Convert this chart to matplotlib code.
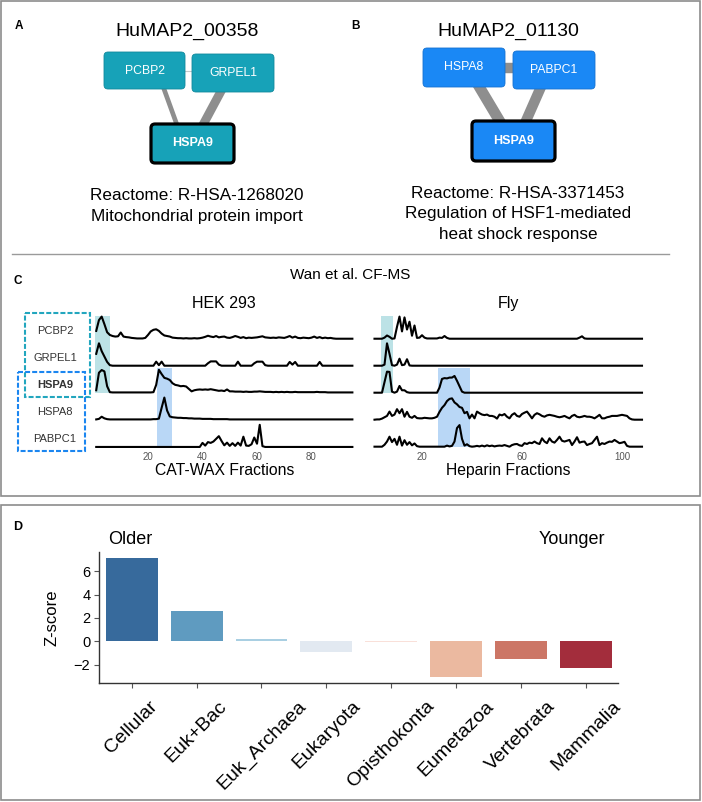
import matplotlib
matplotlib.use('Agg')
import matplotlib.pyplot as plt
from matplotlib.patches import FancyBboxPatch, Rectangle
import numpy as np

plt.rcParams['font.family'] = ['Liberation Sans', 'DejaVu Sans']

# --- DATA ---
# panel A / B : complexes
complex_a = 'HuMAP2_00358'
nodes_a = ['PCBP2', 'GRPEL1', 'HSPA9']
edges_a = [('PCBP2', 'GRPEL1'), ('PCBP2', 'HSPA9'), ('GRPEL1', 'HSPA9')]
weights_a = [0.05, 0.45, 0.85]
caption_a = ['Reactome: R-HSA-1268020', 'Mitochondrial protein import']

complex_b = 'HuMAP2_01130'
nodes_b = ['HSPA8', 'PABPC1', 'HSPA9']
edges_b = [('HSPA8', 'PABPC1'), ('HSPA8', 'HSPA9'), ('PABPC1', 'HSPA9')]
weights_b = [1.0, 1.05, 1.0]
caption_b = ['Reactome: R-HSA-3371453', 'Regulation of HSF1-mediated', 'heat shock response']

# panel C : CF-MS elution profiles
rows = ['PCBP2', 'GRPEL1', 'HSPA9', 'HSPA8', 'PABPC1']
hek_fractions = np.arange(1, 96)
hek = {
    'PCBP2': [0.30, 0.70, 0.83, 0.55, 0.25, 0.15, 0.11, 0.09, 0.10, 0.24,
              0.09, 0.07, 0.06, 0.04, 0.03, 0.02, 0.02, 0.02, 0.04, 0.15,
              0.28, 0.34, 0.36, 0.30, 0.20, 0.13, 0.11, 0.09, 0.05, 0.04,
              0.03, 0.03, 0.02, 0.03, 0.02, 0.02, 0.03, 0.02, 0.03, 0.05,
              0.08, 0.12, 0.09, 0.07, 0.11, 0.06, 0.08, 0.09, 0.05, 0.04,
              0.07, 0.11, 0.08, 0.04, 0.07, 0.03, 0.05, 0.04, 0.05, 0.06,
              0.08, 0.10, 0.06, 0.05, 0.04, 0.05, 0.04, 0.06, 0.05, 0.04,
              0.07, 0.11, 0.05, 0.09, 0.04, 0.03, 0.05, 0.04, 0.03, 0.05,
              0.09, 0.04, 0.07, 0.03, 0.05, 0.03, 0.04, 0.02, 0.01, 0.01,
              0.01, 0.01, 0.01, 0.01, 0.01],
    'GRPEL1': [0.45, 0.84, 0.55, 0.35, 0.15, 0.03, 0.01, 0.01, 0.01, 0.01,
               0.01, 0.01, 0.01, 0.01, 0.01, 0.01, 0.01, 0.01, 0.01, 0.01,
               0.01, 0.01, 0.16, 0.03, 0.16, 0.01, 0.01, 0.01, 0.01, 0.01,
               0.01, 0.01, 0.01, 0.01, 0.01, 0.01, 0.01, 0.01, 0.01, 0.01,
               0.01, 0.10, 0.17, 0.17, 0.17, 0.05, 0.01, 0.01, 0.01, 0.01,
               0.01, 0.01, 0.16, 0.01, 0.01, 0.01, 0.01, 0.01, 0.10, 0.16,
               0.16, 0.16, 0.03, 0.01, 0.01, 0.01, 0.01, 0.01, 0.01, 0.01,
               0.01, 0.15, 0.05, 0.15, 0.01, 0.01, 0.01, 0.01, 0.01, 0.01,
               0.01, 0.01, 0.15, 0.01, 0.01, 0.01, 0.01, 0.01, 0.01, 0.01,
               0.01, 0.01, 0.01, 0.01, 0.01],
    'HSPA9': [0.10, 0.75, 0.85, 0.80, 0.25, 0.03, 0.02, 0.02, 0.02, 0.02,
              0.02, 0.02, 0.02, 0.02, 0.02, 0.02, 0.02, 0.02, 0.02, 0.02,
              0.02, 0.03, 0.30, 0.86, 0.70, 0.56, 0.53, 0.48, 0.36, 0.30,
              0.28, 0.25, 0.26, 0.24, 0.15, 0.06, 0.10, 0.12, 0.13, 0.12,
              0.13, 0.12, 0.14, 0.12, 0.10, 0.08, 0.09, 0.07, 0.13, 0.06,
              0.06, 0.05, 0.05, 0.05, 0.04, 0.05, 0.04, 0.04, 0.05, 0.05,
              0.06, 0.05, 0.04, 0.04, 0.04, 0.03, 0.04, 0.03, 0.04, 0.03,
              0.04, 0.03, 0.03, 0.04, 0.03, 0.03, 0.03, 0.03, 0.03, 0.03,
              0.03, 0.04, 0.03, 0.03, 0.03, 0.02, 0.02, 0.02, 0.02, 0.02,
              0.02, 0.02, 0.02, 0.02, 0.02],
    'HSPA8': [0.02, 0.04, 0.12, 0.06, 0.03, 0.02, 0.02, 0.02, 0.02, 0.02,
              0.02, 0.02, 0.02, 0.02, 0.02, 0.02, 0.02, 0.02, 0.02, 0.02,
              0.02, 0.03, 0.03, 0.05, 0.45, 0.83, 0.35, 0.13, 0.10, 0.09,
              0.08, 0.08, 0.07, 0.07, 0.06, 0.06, 0.05, 0.05, 0.05, 0.04,
              0.04, 0.04, 0.04, 0.03, 0.03, 0.03, 0.03, 0.03, 0.03, 0.02,
              0.02, 0.02, 0.02, 0.02, 0.02, 0.02, 0.02, 0.02, 0.02, 0.02,
              0.02, 0.02, 0.02, 0.02, 0.02, 0.02, 0.02, 0.02, 0.02, 0.02,
              0.02, 0.02, 0.02, 0.02, 0.02, 0.02, 0.02, 0.02, 0.02, 0.02,
              0.02, 0.02, 0.02, 0.02, 0.02, 0.02, 0.02, 0.02, 0.02, 0.02,
              0.02, 0.02, 0.02, 0.02, 0.02],
    'PABPC1': [0.00, 0.00, 0.00, 0.00, 0.00, 0.00, 0.00, 0.00, 0.00, 0.00,
               0.00, 0.00, 0.00, 0.00, 0.00, 0.00, 0.00, 0.00, 0.00, 0.00,
               0.00, 0.00, 0.00, 0.00, 0.00, 0.00, 0.00, 0.00, 0.00, 0.00,
               0.00, 0.00, 0.00, 0.00, 0.00, 0.00, 0.00, 0.00, 0.00, 0.15,
               0.05, 0.18, 0.15, 0.20, 0.30, 0.40, 0.22, 0.06, 0.16, 0.04,
               0.14, 0.04, 0.16, 0.05, 0.38, 0.05, 0.04, 0.10, 0.35, 0.12,
               0.82, 0.03, 0.00, 0.00, 0.00, 0.00, 0.00, 0.00, 0.00, 0.00,
               0.00, 0.00, 0.00, 0.00, 0.00, 0.00, 0.00, 0.00, 0.00, 0.00,
               0.00, 0.00, 0.00, 0.00, 0.00, 0.00, 0.00, 0.00, 0.00, 0.00,
               0.00, 0.00, 0.00, 0.00, 0.00],
}
fly_fractions = np.arange(1, 109)
fly = {
    'PCBP2': [0.01, 0.01, 0.01, 0.01, 0.05, 0.13, 0.08, 0.01, 0.02, 0.45,
              0.83, 0.28, 0.80, 0.35, 0.64, 0.12, 0.50, 0.04, 0.05, 0.14,
              0.05, 0.02, 0.02, 0.02, 0.02, 0.02, 0.05, 0.04, 0.11, 0.04,
              0.01, 0.01, 0.01, 0.01, 0.01, 0.01, 0.01, 0.01, 0.01, 0.01,
              0.01, 0.01, 0.01, 0.01, 0.01, 0.01, 0.01, 0.01, 0.01, 0.01,
              0.01, 0.01, 0.01, 0.01, 0.01, 0.01, 0.01, 0.01, 0.01, 0.01,
              0.01, 0.01, 0.01, 0.01, 0.01, 0.01, 0.01, 0.01, 0.01, 0.01,
              0.01, 0.01, 0.01, 0.01, 0.01, 0.01, 0.01, 0.01, 0.01, 0.01,
              0.01, 0.01, 0.05, 0.10, 0.02, 0.01, 0.01, 0.01, 0.01, 0.01,
              0.01, 0.01, 0.01, 0.01, 0.01, 0.01, 0.01, 0.01, 0.01, 0.01,
              0.01, 0.01, 0.01, 0.01, 0.01, 0.01, 0.01, 0.01],
    'GRPEL1': [0.01, 0.01, 0.01, 0.01, 0.05, 0.84, 0.45, 0.03, 0.01, 0.05,
               0.27, 0.03, 0.05, 0.25, 0.02, 0.01, 0.01, 0.01, 0.01, 0.01,
               0.01, 0.01, 0.01, 0.01, 0.01, 0.01, 0.01, 0.01, 0.01, 0.01,
               0.01, 0.01, 0.01, 0.01, 0.01, 0.01, 0.01, 0.01, 0.01, 0.01,
               0.01, 0.01, 0.01, 0.01, 0.01, 0.01, 0.01, 0.01, 0.01, 0.01,
               0.01, 0.01, 0.01, 0.01, 0.01, 0.01, 0.01, 0.01, 0.01, 0.01,
               0.01, 0.01, 0.01, 0.01, 0.01, 0.01, 0.01, 0.01, 0.01, 0.01,
               0.01, 0.01, 0.01, 0.01, 0.01, 0.01, 0.01, 0.01, 0.01, 0.01,
               0.01, 0.01, 0.01, 0.01, 0.01, 0.01, 0.01, 0.01, 0.01, 0.01,
               0.01, 0.01, 0.01, 0.01, 0.01, 0.01, 0.01, 0.01, 0.01, 0.01,
               0.01, 0.01, 0.01, 0.01, 0.01, 0.01, 0.01, 0.01],
    'HSPA9': [0.01, 0.01, 0.01, 0.01, 0.40, 0.79, 0.78, 0.05, 0.01, 0.05,
              0.26, 0.10, 0.10, 0.03, 0.01, 0.01, 0.01, 0.01, 0.01, 0.01,
              0.01, 0.01, 0.01, 0.01, 0.01, 0.01, 0.20, 0.52, 0.55, 0.54,
              0.57, 0.57, 0.63, 0.45, 0.25, 0.05, 0.01, 0.01, 0.01, 0.01,
              0.01, 0.01, 0.01, 0.01, 0.01, 0.01, 0.01, 0.01, 0.01, 0.01,
              0.01, 0.01, 0.01, 0.01, 0.01, 0.01, 0.01, 0.01, 0.01, 0.01,
              0.01, 0.01, 0.01, 0.01, 0.01, 0.01, 0.01, 0.01, 0.01, 0.01,
              0.01, 0.01, 0.01, 0.01, 0.01, 0.01, 0.01, 0.01, 0.01, 0.01,
              0.01, 0.01, 0.01, 0.01, 0.01, 0.01, 0.01, 0.01, 0.01, 0.01,
              0.01, 0.01, 0.01, 0.01, 0.01, 0.01, 0.01, 0.01, 0.01, 0.01,
              0.01, 0.01, 0.01, 0.01, 0.01, 0.01, 0.01, 0.01],
    'HSPA8': [0.01, 0.02, 0.02, 0.05, 0.10, 0.15, 0.31, 0.15, 0.20, 0.40,
              0.25, 0.40, 0.12, 0.30, 0.12, 0.08, 0.15, 0.07, 0.06, 0.06,
              0.08, 0.07, 0.06, 0.06, 0.08, 0.12, 0.30, 0.45, 0.55, 0.70,
              0.78, 0.80, 0.65, 0.58, 0.48, 0.45, 0.25, 0.30, 0.06, 0.20,
              0.06, 0.31, 0.25, 0.20, 0.18, 0.20, 0.15, 0.15, 0.12, 0.05,
              0.20, 0.17, 0.22, 0.12, 0.06, 0.19, 0.25, 0.15, 0.12, 0.22,
              0.27, 0.31, 0.19, 0.06, 0.19, 0.25, 0.21, 0.15, 0.12, 0.17,
              0.19, 0.17, 0.15, 0.12, 0.10, 0.12, 0.15, 0.10, 0.06, 0.15,
              0.19, 0.12, 0.10, 0.12, 0.15, 0.12, 0.12, 0.10, 0.06, 0.12,
              0.19, 0.06, 0.06, 0.10, 0.12, 0.15, 0.15, 0.15, 0.17, 0.19,
              0.17, 0.15, 0.06, 0.02, 0.01, 0.01, 0.01, 0.01],
    'PABPC1': [0.01, 0.01, 0.01, 0.01, 0.08, 0.20, 0.38, 0.18, 0.30, 0.08,
               0.38, 0.05, 0.25, 0.08, 0.18, 0.06, 0.13, 0.03, 0.01, 0.01,
               0.01, 0.01, 0.01, 0.01, 0.01, 0.01, 0.01, 0.01, 0.01, 0.05,
               0.02, 0.04, 0.20, 0.70, 0.81, 0.30, 0.05, 0.10, 0.03, 0.01,
               0.02, 0.04, 0.02, 0.05, 0.02, 0.06, 0.03, 0.05, 0.02, 0.04,
               0.05, 0.04, 0.07, 0.04, 0.01, 0.07, 0.10, 0.11, 0.06, 0.04,
               0.14, 0.11, 0.16, 0.14, 0.20, 0.14, 0.11, 0.32, 0.20, 0.14,
               0.32, 0.20, 0.16, 0.26, 0.38, 0.23, 0.20, 0.23, 0.26, 0.07,
               0.20, 0.36, 0.16, 0.19, 0.20, 0.07, 0.11, 0.14, 0.26, 0.38,
               0.07, 0.14, 0.11, 0.16, 0.20, 0.19, 0.26, 0.20, 0.14, 0.16,
               0.19, 0.04, 0.01, 0.01, 0.01, 0.01, 0.01, 0.01],
}
# co-elution windows (fraction ranges) highlighted in C
hek_mito_window = (0.5, 6.0)
hek_hsf1_window = (23.3, 28.8)
fly_mito_window = (3.6, 8.4)
fly_hsf1_window = (26.4, 39.2)

# panel D : age enrichment
ages = ['Cellular', 'Euk+Bac', 'Euk_Archaea', 'Eukaryota', 'Opisthokonta',
        'Eumetazoa', 'Vertebrata', 'Mammalia']
zscores = [7.13, 2.58, 0.23, -0.88, -0.05, -3.08, -1.50, -2.28]

# --- STYLE ---
TEAL = '#17a2b8'
BLUE = '#1a88f5'
TEAL_LIGHT = '#bce2e6'
BLUE_LIGHT = '#b9d7f6'
bar_colors = ['#376a9c', '#5f9bc0', '#a9cfe2', '#e2e9f1', '#f9e0d9',
              '#ebb9a0', '#cc7666', '#a32d3c']

W, H = 702, 802
fig = plt.figure(figsize=(W / 100, H / 100), dpi=100)


def px_rect(x0, y0, x1, y1):
    return [x0 / W, 1 - y1 / H, (x1 - x0) / W, (y1 - y0) / H]


# overlay in pixel coordinates for diagram panels / frames
ov = fig.add_axes([0, 0, 1, 1])
ov.set_xlim(0, W)
ov.set_ylim(H, 0)
ov.axis('off')

ov.add_patch(Rectangle((1, 1), 699, 495, fill=False, ec='#8c8c8c', lw=1.2))
ov.add_patch(Rectangle((1, 505), 699, 295, fill=False, ec='#8c8c8c', lw=1.2))
ov.plot([12, 669], [254, 254], color='#9a9a9a', lw=1)


def draw_complex(name, nodes, edges, weights, boxes, ends, color, edge_dark,
                 title_xy, caption, cap_y, letter, letter_xy):
    ov.text(*letter_xy, letter, fontsize=8.5, fontweight='bold', ha='center', va='center')
    ov.text(*title_xy, name, fontsize=14, ha='center', va='center')
    for (a, b), w in zip(edges, weights):
        (x0, y0), (x1, y1) = ends[(a, b)]
        if w < 0.1:
            ov.plot([x0, x1], [y0, y1], color='#c8c8c8', lw=0.8, zorder=1,
                    solid_capstyle='butt')
        else:
            ov.plot([x0, x1], [y0, y1], color='#8e8e8e', lw=7.5 * w, zorder=1,
                    solid_capstyle='butt')
    for n in nodes:
        x0, y0, x1, y1 = boxes[n]
        hub = n == 'HSPA9'
        ov.add_patch(FancyBboxPatch((x0, y0), x1 - x0, y1 - y0,
                                    boxstyle='round,pad=0,rounding_size=4',
                                    fc=color, ec='black' if hub else edge_dark,
                                    lw=2.3 if hub else 0.6, zorder=2))
        ov.text((x0 + x1) / 2, (y0 + y1) / 2, n, color='white', ha='center', va='center',
                fontsize=9 if hub else 8.8, fontweight='bold' if hub else 'normal', zorder=3)
    for i, line in enumerate(caption):
        ov.text(title_xy[0] + 10, cap_y + 20.5 * i, line, fontsize=12.3, ha='center', va='center')


boxes_a = {'PCBP2': (104, 52, 185, 89), 'GRPEL1': (192, 54, 274, 92), 'HSPA9': (151, 124, 234, 163)}
ends_a = {('PCBP2', 'GRPEL1'): ((184, 71), (193, 71)),
          ('PCBP2', 'HSPA9'): ((160, 78), (181, 136)),
          ('GRPEL1', 'HSPA9'): ((227, 80), (197, 136))}
draw_complex(complex_a, nodes_a, edges_a, weights_a, boxes_a, ends_a, TEAL, '#12899c',
             (187, 31), caption_a, 196, 'A', (19, 26))

boxes_b = {'HSPA8': (423, 48, 505, 87), 'PABPC1': (513, 51, 595, 89), 'HSPA9': (472, 121, 555, 161)}
ends_b = {('HSPA8', 'PABPC1'): ((500, 68), (518, 68)),
          ('HSPA8', 'HSPA9'): ((474, 78), (505, 130)),
          ('PABPC1', 'HSPA9'): ((544, 80), (522, 130))}
draw_complex(complex_b, nodes_b, edges_b, weights_b, boxes_b, ends_b, BLUE, '#1672d0',
             (508, 31), caption_b, 193, 'B', (355, 26))

# --- panel C ---
ov.text(18, 281, 'C', fontsize=8.5, fontweight='bold', ha='center', va='center')
ov.text(350, 275, 'Wan et al. CF-MS', fontsize=11, ha='center', va='center')

ax_h = fig.add_axes(px_rect(93.5, 312, 93.5 + 96 * 2.725, 451))
ax_f = fig.add_axes(px_rect(372, 312, 372 + 109 * 2.5, 451))
panels = [(ax_h, hek, hek_fractions, 96, 'HEK 293', 'CAT-WAX Fractions', [20, 40, 60, 80],
           hek_mito_window, hek_hsf1_window),
          (ax_f, fly, fly_fractions, 109, 'Fly', 'Heparin Fractions', [20, 60, 100],
           fly_mito_window, fly_hsf1_window)]
for ax, prof, fr, xmax, title, xlabel, ticks, mito, hsf in panels:
    ax.set_xlim(0, xmax)
    ax.set_ylim(-0.15, 5.0)
    ax.patch.set_alpha(0)
    for s in ax.spines.values():
        s.set_visible(False)
    ax.add_patch(Rectangle((mito[0], 2.0), mito[1] - mito[0], 2.85, fc=TEAL_LIGHT, ec='none', zorder=0))
    ax.add_patch(Rectangle((hsf[0], 0.0), hsf[1] - hsf[0], 2.93, fc=BLUE_LIGHT, ec='none', zorder=0))
    for k, name in enumerate(rows):
        off = len(rows) - 1 - k
        ax.plot(fr, np.array(prof[name]) + off, color='black', lw=1.5, zorder=2)
    ax.set_yticks([])
    ax.set_xticks(ticks)
    ax.tick_params(axis='x', length=0, pad=0.5, labelsize=7, labelcolor='#555555')
    ax.set_title(title, fontsize=11.5, pad=3)
    ax.set_xlabel(xlabel, fontsize=11.3, labelpad=1)

for k, name in enumerate(rows):
    off = len(rows) - 1 - k
    ax_h.text(-14.1, off + 0.3, name, ha='center', va='center', fontsize=8, color='#333333',
              fontweight='bold' if name == 'HSPA9' else 'normal')

ov.add_patch(Rectangle((25, 313), 65, 84, fill=False, ec='#22a6be', lw=1.5, ls=(0, (2.4, 1.0)), zorder=4))
ov.add_patch(Rectangle((18, 372), 67, 79, fill=False, ec='#1b86f0', lw=1.5, ls=(0, (2.4, 1.0)), zorder=4))

# --- panel D ---
ov.text(18, 527, 'D', fontsize=9, fontweight='bold', ha='center', va='center')
ov.text(130, 540, 'Older', fontsize=13, ha='center', va='center')
ov.text(572, 540, 'Younger', fontsize=13, ha='center', va='center')

ax_d = fig.add_axes(px_rect(99.3, 552, 618.3, 683.3))
ax_d.bar(np.arange(len(ages)), zscores, width=0.8, color=bar_colors)
ax_d.set_xlim(-0.5, len(ages) - 0.5)
ax_d.set_yticks([-2, 0, 2, 4, 6])
ax_d.set_xticks(np.arange(len(ages)))
ax_d.set_xticklabels(ages, rotation=45, ha='center', fontsize=14)
ax_d.set_ylabel('Z-score', fontsize=12, labelpad=10)
ax_d.spines['top'].set_visible(False)
ax_d.spines['right'].set_visible(False)
for s in ('left', 'bottom'):
    ax_d.spines[s].set_color('#333333')
    ax_d.spines[s].set_linewidth(1.0)
ax_d.tick_params(axis='y', length=3.5, width=0.8, labelsize=10.5, color='#555555', pad=3)
ax_d.tick_params(axis='x', length=3.5, width=0.8, color='#555555', pad=7)
ax_d.patch.set_alpha(0)

fig.savefig('out.png', dpi=100)
